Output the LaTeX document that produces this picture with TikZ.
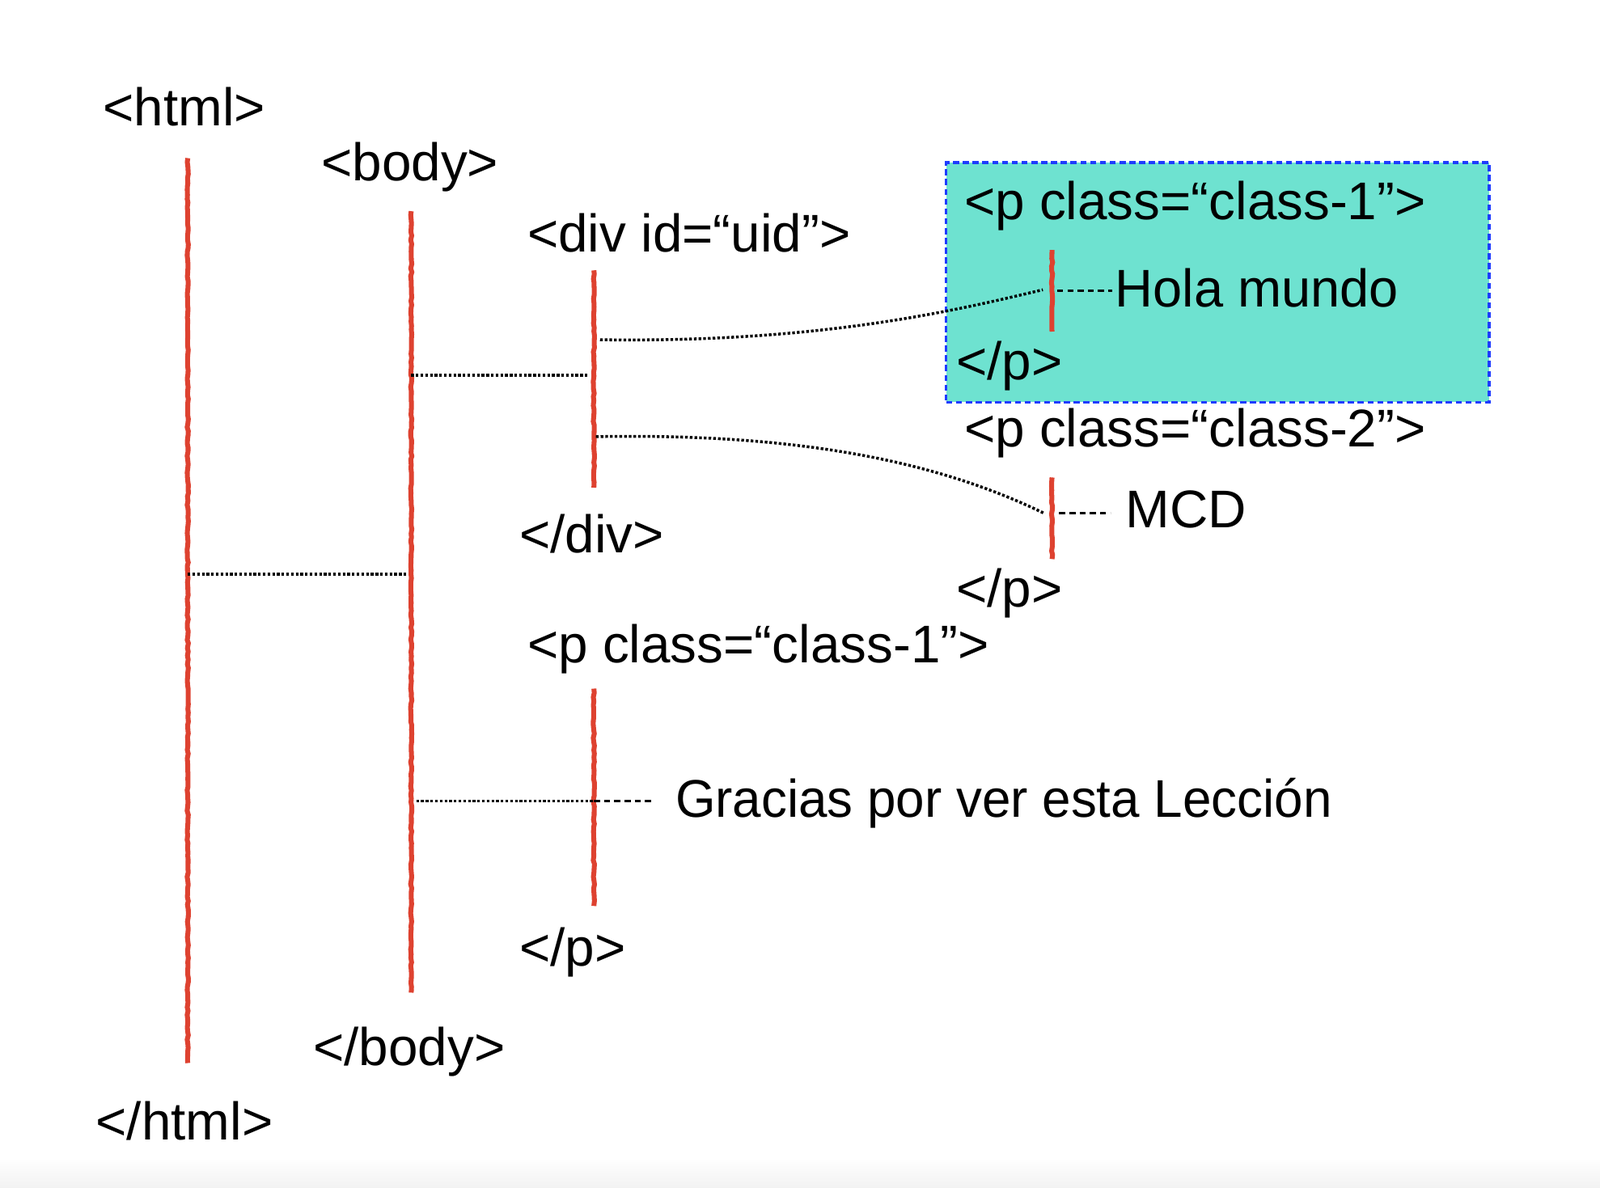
\documentclass[tikz,border=0pt]{standalone}
\usepackage{fontspec}
\setmainfont{Liberation Sans}
\usetikzlibrary{decorations.pathmorphing}
\definecolor{redc}{RGB}{222,66,48}
\definecolor{boxfill}{RGB}{110,226,208}
\definecolor{boxline}{RGB}{30,60,255}
\begin{document}
\begin{tikzpicture}[x=0.5pt,y=-0.5pt,
  lbl/.style={font=\fontsize{26}{30}\selectfont, anchor=base west, inner sep=0pt, outer sep=0pt},
  redline/.style={draw=redc, line width=2.4pt, decorate, decoration={random steps, segment length=2pt, amplitude=0.3pt}},
  conn/.style={dash pattern=on 1.3pt off 1pt, line width=1.4pt},
  shortdash/.style={dash pattern=on 3pt off 2pt, line width=1.3pt},
  ]
\useasboundingbox (0,0) rectangle (1568,1164);
\fill[white] (0,0) rectangle (1568,1164);
\shade[top color=white, bottom color=black!5] (0,1135) rectangle (1568,1164);

% highlighted box
\node[draw=boxline, fill=boxfill, line width=1.3pt, dash pattern=on 3pt off 1.8pt,
      minimum width=266pt, minimum height=117.5pt, inner sep=0pt, anchor=north west] (box) at (926,158) {};

% labels
\node[lbl] (html) at (101,123) {<html>};
\node[lbl] (htmlE) at (94,1117) {</html>};
\node[lbl] (body) at (315,177) {<body>};
\node[lbl] (bodyE) at (307,1044) {</body>};
\node[lbl] (div) at (517,247) {<div id=“uid”>};
\node[lbl] (divE) at (509,542) {</div>};
\node[lbl] (p3) at (517,650) {<p class=“class-1”>};
\node[lbl] (p3E) at (509,947) {</p>};
\node[lbl] (p1) at (945,215) {<p class=“class-1”>};
\node[lbl, xscale=0.99] (hola) at (1093,301) {Hola mundo};
\node[lbl] (p1E) at (937,372) {</p>};
\node[lbl] (p2) at (945,438) {<p class=“class-2”>};
\node[lbl] (mcd) at (1103,517) {MCD};
\node[lbl] (p2E) at (937,595) {</p>};
\node[lbl, xscale=0.972] (grac) at (662,801) {Gracias por ver esta Lección};

% element lines
\coordinate (htmlT) at (184,155);  \coordinate (htmlB) at (184,1042);
\coordinate (bodyT) at (403,207);  \coordinate (bodyB) at (403,973);
\coordinate (divT) at (582,265);   \coordinate (divB) at (582,478);
\coordinate (p3T) at (582,675);    \coordinate (p3B) at (582,888);
\coordinate (p1T) at (1031,245);   \coordinate (p1B) at (1031,325);
\coordinate (p2T) at (1031,468);   \coordinate (p2B) at (1031,548);
\draw[redline] (htmlT) -- (htmlB);
\draw[redline] (bodyT) -- (bodyB);
\draw[redline] (divT) -- (divB);
\draw[redline] (p3T) -- (p3B);
\draw[redline] (p1T) -- (p1B);
\draw[redline] (p2T) -- (p2B);

% connectors
\coordinate (htmlJ) at (184,563);  \coordinate (bodyJa) at (398,563);
\coordinate (bodyJb) at (403,368); \coordinate (divJa) at (577,368);
\coordinate (divJb) at (588,333);  \coordinate (p1J) at (1022,284);
\coordinate (divJc) at (584,428);  \coordinate (p2J) at (1023,503);
\coordinate (bodyJc) at (408,785); \coordinate (p3J) at (582,785);
\coordinate (gracJ) at (638,785);
\coordinate (p1Jr) at (1036,285);  \coordinate (holaJ) at (1090,285);
\coordinate (p2Jr) at (1038,503);  \coordinate (mcdJ) at (1088,503);

\draw[conn] (htmlJ) -- (bodyJa);
\draw[conn] (bodyJb) -- (divJa);
\draw[conn] (divJb) .. controls (800,336) and (930,306) .. (p1J);
\draw[conn] (divJc) .. controls (800,424) and (930,458) .. (p2J);
\draw[conn] (bodyJc) -- (p3J);
\draw[shortdash] (p3J) -- (gracJ);
\draw[shortdash] (p1Jr) -- (holaJ);
\draw[shortdash] (p2Jr) -- (mcdJ);
\end{tikzpicture}
\end{document}
